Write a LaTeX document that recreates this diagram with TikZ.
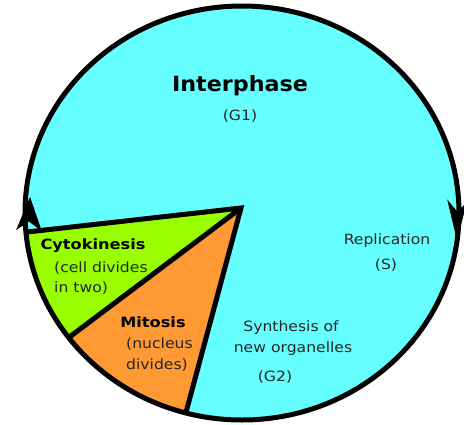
\documentclass[tikz,border=0pt]{standalone}
\usepackage{fontspec}
\setmainfont{DejaVu Sans}
\newfontfamily\lblfont[FakeStretch=1.1]{DejaVu Sans}
\newfontfamily\lblbfont[FakeStretch=1.14]{DejaVu Sans}
\newfontfamily\ttlfont[FakeStretch=1.06]{DejaVu Sans}
\usetikzlibrary{calc}
\definecolor{cyanbg}{RGB}{102,255,255}
\definecolor{limeg}{RGB}{153,255,0}
\definecolor{orng}{RGB}{255,153,51}
\definecolor{txt}{RGB}{38,38,38}
\tikzset{
  rim/.style={line width=5pt},
  divider/.style={line width=5pt, line join=miter, line cap=butt},
  headfill/.style={fill=black, draw=black, line width=0.8pt, line join=miter},
  lbl/.style={inner sep=0pt, text=txt, font=\lblfont\fontsize{14.2}{16}\selectfont},
  lblbold/.style={inner sep=0pt, text=black, font=\lblbfont\bfseries\fontsize{14.2}{16}\selectfont},
  ttl/.style={inner sep=0pt, text=black, font=\ttlfont\bfseries\fontsize{21}{25}\selectfont}
}
\begin{document}
\begin{tikzpicture}[x=1pt,y=-1pt]
\useasboundingbox (0,0) rectangle (464,424);
\coordinate (E) at (242,213);
\coordinate (O) at (241,208);
\coordinate (A) at ($(E)+(174.7:217 and 207)$);
\coordinate (B) at ($(E)+(143:217 and 207)$);
\coordinate (C) at ($(E)+(105:217 and 207)$);
% background disk
\fill[cyanbg] (E) ellipse [x radius=217, y radius=207];
\begin{scope}
  \clip (E) ellipse [x radius=217, y radius=207];
  \fill[limeg] (O) -- ($(O)!2!(A)$) -- ($(O)!2!(B)$) -- cycle;
  \fill[orng] (O) -- ($(O)!2!(B)$) -- ($(O)!2!(C)$) -- cycle;
\end{scope}
\draw[divider] (A) -- (O) -- (C);
\draw[divider] (O) -- (B);
\draw[rim] (E) ellipse [x radius=217, y radius=207];
% arrowheads on the rim
\coordinate (L1) at (30,198);
\coordinate (L2) at (41,230);
\coordinate (L3) at (29,221);
\coordinate (L4) at (17,229);
\filldraw[headfill] (L1) -- (L2) -- (L3) -- (L4) -- cycle;
\coordinate (R1) at (457,239);
\coordinate (R2) at (448,201);
\coordinate (R3) at (457,212);
\coordinate (R4) at (466,204);
\filldraw[headfill] (R1) -- (R2) -- (R3) -- (R4) -- cycle;
% labels
\node[ttl] (interphase) at (240,86) {Interphase};
\node[lbl] (g1) at (240,116) {(G1)};
\node[lbl] (repl) at (387,241) {Replication};
\node[lbl] (s) at (386,265) {(S)};
\node[lbl] (synth) at (291,328) {Synthesis of};
\node[lbl] (neworg) at (293,349) {new organelles};
\node[lbl] (g2) at (275,377) {(G2)};
\node[lblbold] (cyto) at (93,246) {Cytokinesis};
\node[lbl, anchor=west] (cyto1) at (54,268) {(cell divides};
\node[lbl, anchor=west] (cyto2) at (54,288) {in two)};
\node[lblbold] (mito) at (153,322) {Mitosis};
\node[lbl, anchor=west] (mito1) at (126,344) {(nucleus};
\node[lbl, anchor=west] (mito2) at (126,365) {divides)};
\end{tikzpicture}
\end{document}
